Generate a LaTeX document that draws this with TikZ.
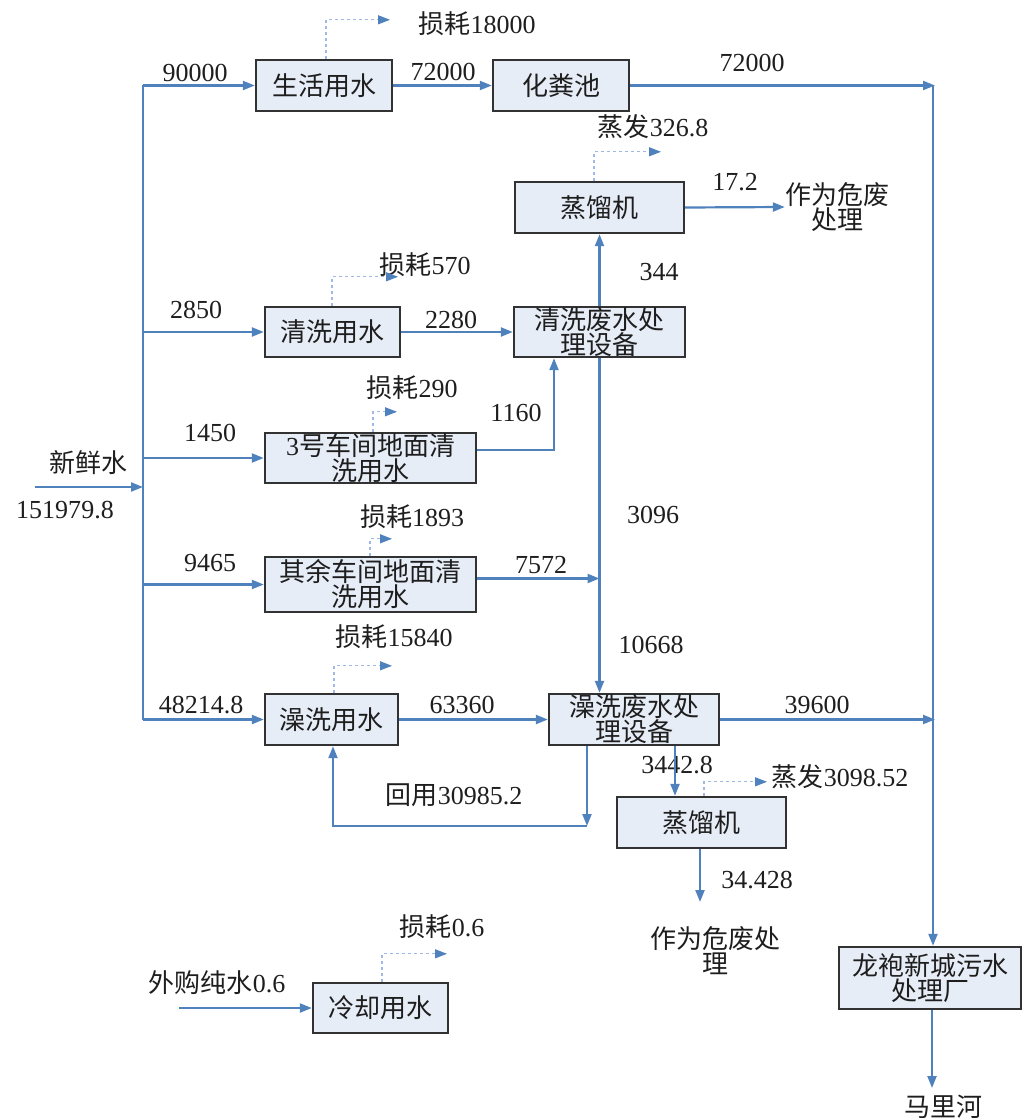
\documentclass[tikz,border=0pt]{standalone}
\usepackage{fontspec}
\setmainfont{Liberation Serif}
\newfontfamily\cjkf{Noto Sans CJK SC}
\newcommand\cj[1]{{\cjkf #1}}
\usetikzlibrary{arrows.meta}
\definecolor{lineblue}{RGB}{79,129,189}
\definecolor{boxfill}{RGB}{231,237,247}
\definecolor{dashblue}{RGB}{160,185,228}
\definecolor{boxline}{RGB}{50,50,50}
\definecolor{txt}{RGB}{30,30,30}
\begin{document}
\begin{tikzpicture}[x=1pt,y=-1pt,
  font=\fontsize{26}{25}\selectfont,
  box/.style={draw=boxline, line width=2.4pt, fill=boxfill, inner sep=0pt, align=center, text=txt},
  flow/.style={draw=lineblue, line width=2.2pt, -{Triangle[length=12pt,width=9pt]}},
  plain/.style={draw=lineblue, line width=2.2pt},
  loss/.style={draw=dashblue, line width=1.2pt, dash pattern=on 3pt off 3pt, -{Triangle[length=12pt,width=9pt,color=lineblue]}},
  lbl/.style={inner sep=0pt, text=txt, align=center}]
\useasboundingbox (0,0) rectangle (1022,1118);
% boxes
\node[box, minimum width=136, minimum height=51] (shb) at (324,85.5) {\cj{生活用水}};
\node[box, minimum width=136, minimum height=51] (hfc) at (561,85.5) {\cj{化粪池}};
\node[box, minimum width=169, minimum height=51] (zlj1) at (599.5,207.5) {\cj{蒸馏机}};
\node[box, minimum width=135, minimum height=50] (qxs) at (332.5,332) {\cj{清洗用水}};
\node[box, minimum width=171, minimum height=50] (qxf) at (599.5,332) {\cj{清洗废水处}\\\cj{理设备}};
\node[box, minimum width=211, minimum height=50] (s3) at (370.5,458) {3\cj{号车间地面清}\\\cj{洗用水}};
\node[box, minimum width=211, minimum height=55] (qy) at (370.5,584.5) {\cj{其余车间地面清}\\\cj{洗用水}};
\node[box, minimum width=133, minimum height=51] (zx) at (331.5,719.5) {\cj{澡洗用水}};
\node[box, minimum width=170, minimum height=51] (zxf) at (634,719.5) {\cj{澡洗废水处}\\\cj{理设备}};
\node[box, minimum width=169, minimum height=51] (zlj2) at (701.5,822.5) {\cj{蒸馏机}};
\node[box, minimum width=182, minimum height=62] (lp) at (930,978) {\cj{龙袍新城污水}\\\cj{处理厂}};
\node[box, minimum width=135, minimum height=50] (lq) at (380.5,1008) {\cj{冷却用水}};
% labels
\node[lbl] (l1) at (477,24) {\cj{损耗}18000};
\node[lbl] (l2) at (195,73) {90000};
\node[lbl] (l3) at (443,72) {72000};
\node[lbl] (l4) at (752,63) {72000};
\node[lbl] (l5) at (653,127) {\cj{蒸发}326.8};
\node[lbl] (l6) at (735,182) {17.2};
\node[lbl] (hw1) at (837,207) {\cj{作为危废}\\\cj{处理}};
\node[lbl] (l7) at (425,265) {\cj{损耗}570};
\node[lbl] (l8) at (659,272) {344};
\node[lbl] (l9) at (196,310) {2850};
\node[lbl] (l10) at (451,320) {2280};
\node[lbl] (l11) at (412,388) {\cj{损耗}290};
\node[lbl] (l12) at (516,413) {1160};
\node[lbl] (l13) at (210,433) {1450};
\node[lbl] (l14) at (88,463) {\cj{新鲜水}};
\node[lbl] (l15) at (65,510) {151979.8};
\node[lbl] (l16) at (653,515) {3096};
\node[lbl] (l17) at (412,517) {\cj{损耗}1893};
\node[lbl] (l18) at (210,563) {9465};
\node[lbl] (l19) at (541,565) {7572};
\node[lbl] (l20) at (394,637) {\cj{损耗}15840};
\node[lbl] (l21) at (651,645) {10668};
\node[lbl] (l22) at (201,705) {48214.8};
\node[lbl] (l23) at (462,705) {63360};
\node[lbl] (l24) at (817,705) {39600};
\node[lbl] (l25) at (677,765) {3442.8};
\node[lbl] (l26) at (840,777) {\cj{蒸发}3098.52};
\node[lbl] (l27) at (454,795) {\cj{回用}30985.2};
\node[lbl] (l28) at (757,880) {34.428};
\node[lbl] (hw2) at (715,951) {\cj{作为危废处}\\\cj{理}};
\node[lbl] (l29) at (442,927) {\cj{损耗}0.6};
\node[lbl] (l30) at (217,983) {\cj{外购纯水}0.6};
\node[lbl] (l31) at (943,1107) {\cj{马里河}};
% coordinates
\coordinate (mtop) at (143,85.5);
\coordinate (fin) at (35,487);
\coordinate (rt) at (933,85.5);
\coordinate (rb) at (587,826);
\coordinate (hw2a) at (700,902);
\coordinate (mlh) at (932,1088);
\coordinate (wgin) at (179,1008);
% main supply
\draw[plain] (mtop) -- (zx.west -| mtop);
\draw[flow] (fin) -- (fin -| mtop);
\draw[flow] (mtop) -- (shb.west);
\draw[flow] (qxs.west -| mtop) -- (qxs.west);
\draw[flow] (s3.west -| mtop) -- (s3.west);
\draw[flow] (qy.west -| mtop) -- (qy.west);
\draw[flow] (zx.west -| mtop) -- (zx.west);
% flows
\draw[flow] (shb.east) -- (hfc.west);
\draw[flow] (hfc.east) -- ([xshift=2]rt);
\draw[flow] (rt) -- (rt |- lp.north);
\draw[flow] (zlj1.east) -- (hw1.west);
\draw[flow] (qxs.east) -- (qxf.west);
\draw[flow] ([yshift=8]s3.east) -| ([xshift=-45.5]qxf.south);
\draw[flow] (qxf.north) -- (zlj1.south);
\draw[flow] (qxf.south) -- (qxf.south |- zxf.north);
\draw[flow] ([yshift=6]qy.east) -- ([yshift=6]qy.east -| qxf.south);
\draw[flow] (zx.east) -- (zxf.west);
\draw[flow] (zxf.east) -- ([xshift=2]zxf.east -| rt);
\draw[flow] (rb |- zxf.south) -- (rb);
\draw[flow] (rb) -| ([xshift=1.5]zx.south);
\draw[flow] ([xshift=41]zxf.south) -- ([xshift=41]zxf.south |- zlj2.north);
\draw[flow] (zlj2.south -| hw2a) -- (hw2a);
\draw[flow] (lp.south -| mlh) -- (mlh);
\draw[flow] (wgin) -- (lq.west);
% losses
\draw[loss] ([xshift=2]shb.north) -- ++(0,-39) -- ++(64,0);
\draw[loss] ([xshift=-5.5]zlj1.north) -- ++(0,-29) -- ++(67,0);
\draw[loss] ([xshift=-0.5]qxs.north) -- ++(0,-29) -- ++(66,0);
\draw[loss] ([xshift=2.5]s3.north) -- ++(0,-20) -- ++(24,0);
\draw[loss] ([xshift=-0.5]qy.north) -- ++(0,-17) -- ++(22,0);
\draw[loss] ([xshift=2.5]zx.north) -- ++(0,-27) -- ++(58,0);
\draw[loss] ([xshift=2.5]zlj2.north) -- ++(0,-14) -- ++(63,0);
\draw[loss] ([xshift=1.5]lq.north) -- ++(0,-28) -- ++(65,0);
\end{tikzpicture}
\end{document}
